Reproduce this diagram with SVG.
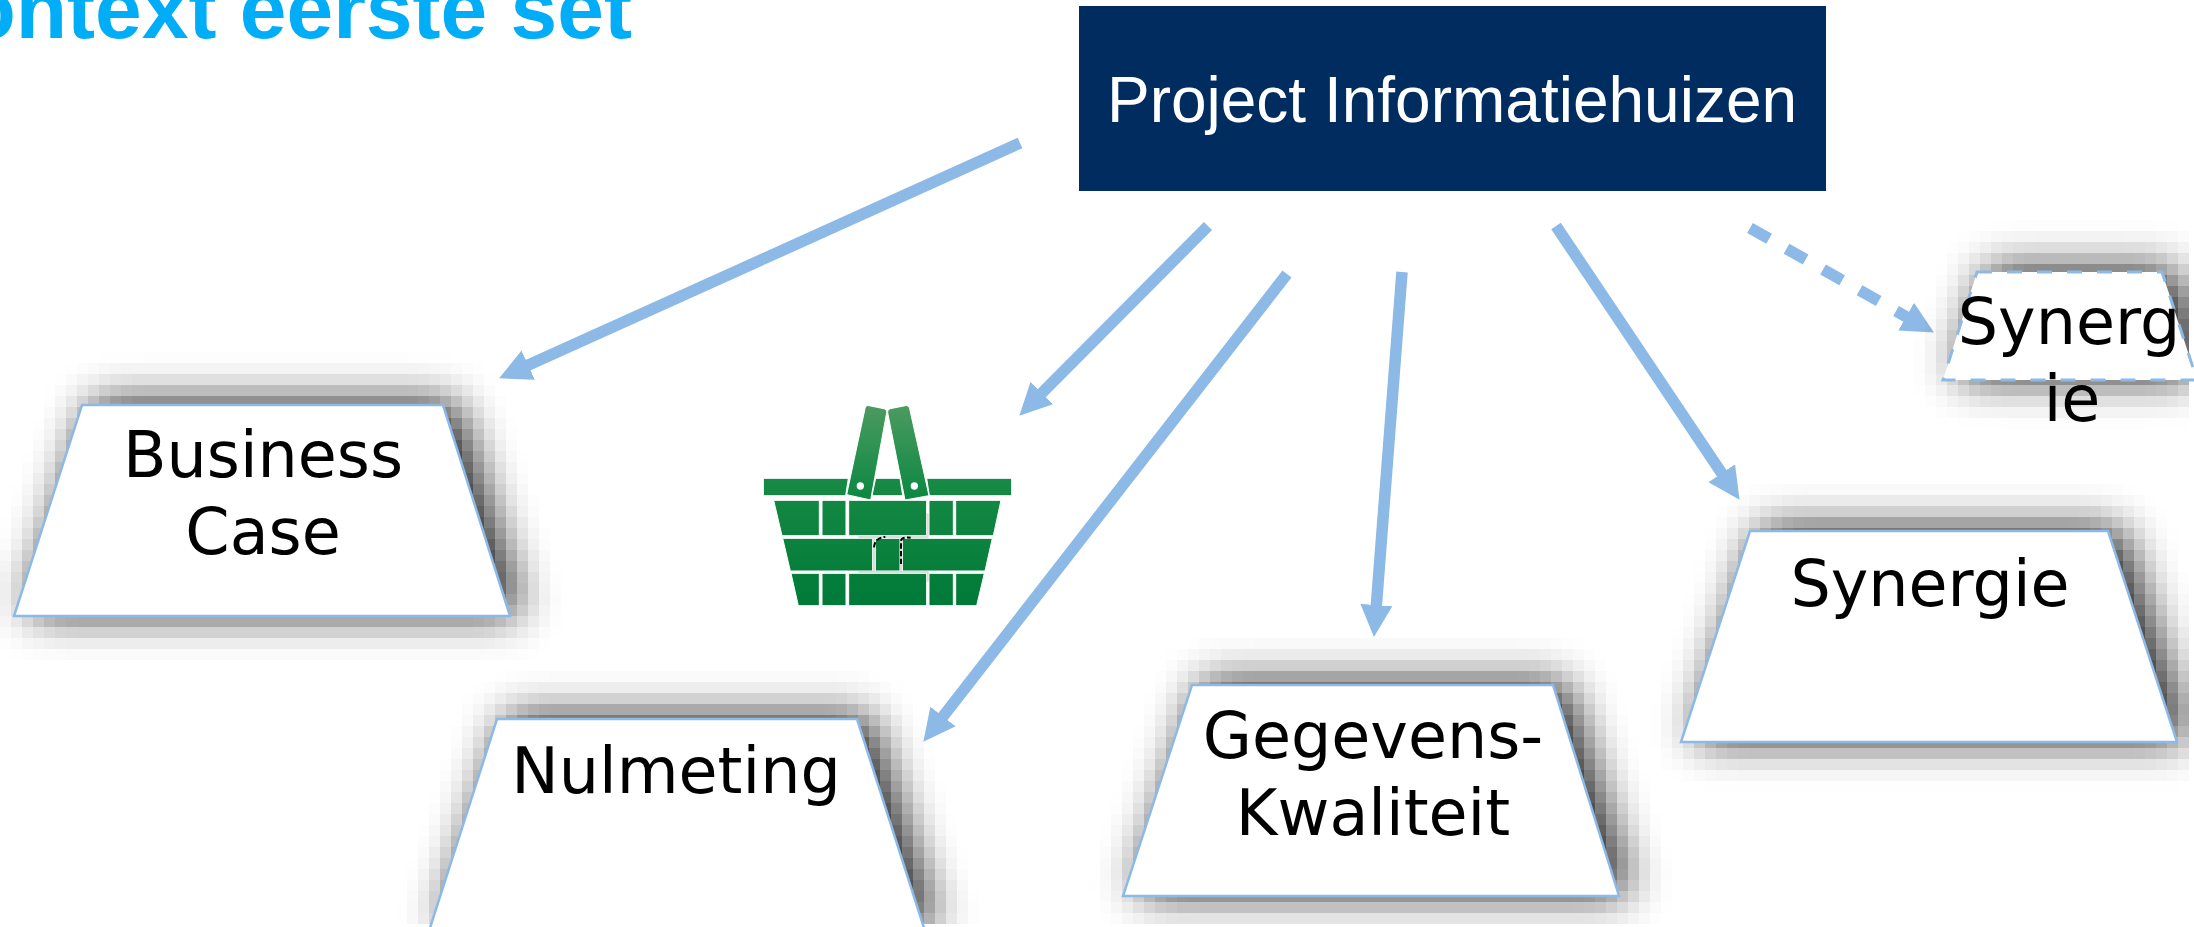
<svg xmlns="http://www.w3.org/2000/svg" width="2194" height="927" viewBox="0 0 2194 927">
<style>
text{font-family:"DejaVu Sans",Verdana,sans-serif;font-size:63.5px;fill:#000;text-anchor:middle}
.title{font-family:"Liberation Sans",Arial,sans-serif;font-weight:bold;font-size:84px;fill:#00ADF6;text-anchor:end}
.hd{font-family:"Liberation Sans",Arial,sans-serif;font-size:64px;fill:#fff}
.tr{fill:#fff;stroke:#8DB9E6;stroke-width:2.5}
.sh{fill:#000;filter:url(#shadow)}
.c{fill:none;stroke:#8DB9E6;stroke-width:11.5;marker-end:url(#ah)}
.b polygon{stroke:#fff;stroke-width:3}
</style>
<defs>
<marker id="ah" markerUnits="userSpaceOnUse" markerWidth="34" markerHeight="34" refX="1" refY="17" orient="auto"><path d="M0 1L32 17L0 33Z" fill="#8DB9E6"/></marker>
<linearGradient id="bg" gradientUnits="userSpaceOnUse" x1="0" y1="325" x2="0" y2="707"><stop offset="0" stop-color="#178A45"/><stop offset="1" stop-color="#007A37"/></linearGradient>
<linearGradient id="hg" gradientUnits="userSpaceOnUse" x1="0" y1="108" x2="0" y2="388"><stop offset="0" stop-color="#4C9A60"/><stop offset="1" stop-color="#0A8842"/></linearGradient>
<filter id="shadow" filterUnits="userSpaceOnUse" primitiveUnits="userSpaceOnUse" x="0" y="0" width="2194" height="927" color-interpolation-filters="sRGB">
<feOffset in="SourceAlpha" dx="12" dy="-2" result="o"/>
<feGaussianBlur in="o" stdDeviation="22" result="b"/>
<feComponentTransfer in="b" result="d"><feFuncA type="linear" slope="0.92"/></feComponentTransfer>
<feFlood x="5" y="5" width="1" height="1" flood-color="#000" result="dot"/>
<feComposite in="dot" in2="dot" operator="over" x="0" y="0" width="11" height="11" result="cell"/>
<feTile in="cell" x="0" y="0" width="2194" height="927" result="grid"/>
<feComposite in="d" in2="grid" operator="in" result="samp"/>
<feMorphology in="samp" operator="dilate" radius="5"/>
</filter>
</defs>
<rect width="2194" height="927" fill="#fff"/>
<text class="title" x="632" y="38">Context eerste set</text>
<g id="connectors">
<line class="c" x1="1020" y1="143" x2="527.3" y2="365.6"/>
<line class="c" x1="1208" y1="226" x2="1041.2" y2="393.7"/>
<line class="c" x1="1287" y1="274" x2="942.4" y2="717.3"/>
<line class="c" x1="1402" y1="272" x2="1376.3" y2="606.1"/>
<line class="c" x1="1556" y1="226" x2="1722.3" y2="474.1"/>
<line class="c" x1="1750" y1="228" x2="1907" y2="317.2" stroke-dasharray="22 20"/>
</g>
<g id="project"><rect x="1079" y="6" width="747" height="185" fill="#002C5F"/><text class="hd" x="1452" y="122">Project Informatiehuizen</text></g>
<g id="business-case"><polygon class="sh" points="82,405 443,405 510,616 14,616"/><polygon class="tr" points="82,405 443,405 510,616 14,616"/><text x="263" y="477">Business</text><text x="263" y="554">Case</text></g>
<g id="nulmeting"><polygon class="sh" points="497,719 857,719 925,931 429,931"/><polygon class="tr" points="497,719 857,719 925,931 429,931"/><text x="676" y="793">Nulmeting</text></g>
<g id="gegevens"><polygon class="sh" points="1192,685 1553,685 1619,896 1123,896"/><polygon class="tr" points="1192,685 1553,685 1619,896 1123,896"/><text x="1373" y="758">Gegevens-</text><text x="1373" y="835">Kwaliteit</text></g>
<g id="synergie"><polygon class="sh" points="1750,531 2108,531 2177,742 1681,742"/><polygon class="tr" points="1750,531 2108,531 2177,742 1681,742"/><text x="1930" y="606">Synergie</text></g>
<g id="synergie-dashed"><polygon class="sh" points="1977,272 2162,272 2197,380 1943,380"/><polygon class="tr" stroke-dasharray="15 15" style="stroke-width:3" points="1977,272 2162,272 2197,380 1943,380"/><text x="2069" y="344">Synerg</text><text x="2072" y="421">ie</text></g>
<g id="basket" class="b" transform="translate(700 370) scale(.33333)">
<g fill="url(#bg)">
<polygon points="190,325 445,325 437,377 190,377"/><polygon points="527,325 600,325 608,377 516,377"/><polygon points="680,325 935,325 935,377 688,377"/>
<polygon points="221,391 358,391 358,497 246,497"/><polygon points="366,391 438,391 438,497 366,497"/><polygon points="446,391 680,391 680,497 446,497"/><polygon points="687,391 760,391 760,497 687,497"/><polygon points="767,391 903,391 880,497 767,497"/>
<polygon points="248,505 518,505 518,603 271,603"/><polygon points="526,505 600,505 600,603 526,603"/><polygon points="607,505 877,505 855,603 607,603"/>
<polygon points="273,610 358,610 358,707 295,707"/><polygon points="366,610 438,610 438,707 366,707"/><polygon points="446,610 680,610 680,707 446,707"/><polygon points="687,610 760,610 760,707 687,707"/><polygon points="767,610 853,610 830,707 767,707"/>
</g>
<path d="M475 501H683V430M475 606H683V635M522 505V603M603 505V603" fill="none" stroke="#ddd" stroke-width="6"/>
<path d="M522 532Q524 504 556 500M603 582V515Q602 500 632 503" fill="none" stroke="#000" stroke-width="6" stroke-dasharray="16 7"/>
<g fill="url(#hg)" stroke="#fff" stroke-width="3">
<path d="M495 116Q497 105 507 107L552 116Q562 118 560 128L512 390L440 374Z"/>
<path d="M563 128Q561 118 571 116L616 107Q626 105 629 116L687 377L615 390Z"/>
</g>
<circle cx="481" cy="348" r="11" fill="#fff"/><circle cx="643" cy="348" r="11" fill="#fff"/>
</g>
</svg>
